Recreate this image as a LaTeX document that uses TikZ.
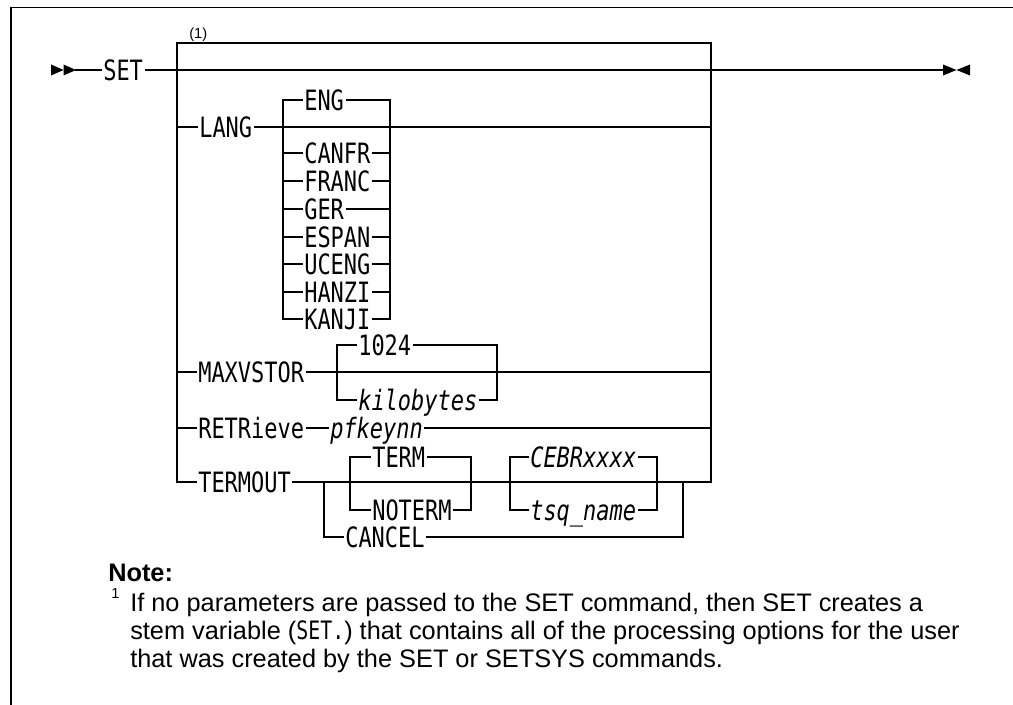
\documentclass[tikz,border=0pt]{standalone}
\usepackage{fontspec}
\setmainfont{Liberation Sans}
\newfontfamily\rrfont[FakeStretch=0.785]{DejaVu Sans Mono}
\tikzset{
  rr/.style={font=\rrfont\fontsize{21}{23}\selectfont, inner xsep=1.5pt, inner ysep=0pt,
             text height=15.3pt, text depth=0pt, anchor=west},
  rri/.style={rr, font=\rrfont\itshape\fontsize{21}{23}\selectfont},
  rail/.style={line width=1.05pt, line cap=rect},
  notetext/.style={anchor=base west, inner sep=0pt, font=\fontsize{19}{21}\selectfont},
}
\begin{document}
\begin{tikzpicture}[x=0.75pt,y=-0.75pt]
\useasboundingbox (0,0) rectangle (1013,705);
% frame
\coordinate (fb) at (11,705);
\coordinate (fc) at (11,7.5);
\coordinate (fr) at (1013,7.5);
\draw[line width=1.1pt] (fb) -- (fc) -- (fr);

% start / end markers
\coordinate (a0) at (76,70);
\coordinate (e0) at (943,70);
\fill (51,64.5) -- (63.5,70) -- (51,75.5) -- cycle;
\fill (63.5,64.5) -- (76,70) -- (63.5,75.5) -- cycle;
\fill (943,64.5) -- (956.5,70) -- (943,75.5) -- cycle;
\fill (970,64.5) -- (956.5,70) -- (970,75.5) -- cycle;

% main
\node[rr] (SET) at (101,70) {SET};
\draw[rail] (a0) -- (SET.west);
\draw[rail] (SET.east) -- (e0);

% main box
\coordinate (mTL) at (177,43);
\coordinate (mTR) at (711,43);
\coordinate (mBL) at (177,482);
\coordinate (mBR) at (711,482);
\draw[rail] (mBL) -- (mTL) -- (mTR) -- (mBR);
\node[anchor=south west, inner sep=0pt, font=\fontsize{11}{12}\selectfont] (fn1) at (189,42) {(1)};

% LANG
\node[rr] (LANG) at (197,127) {LANG};
\draw[rail] (LANG.west -| mTL) -- (LANG.west);
\draw[rail] (LANG.east) -- (LANG.east -| mTR);
\coordinate (lTL) at (283,100);
\coordinate (lTR) at (390,100);
\coordinate (lBL) at (283,319);
\coordinate (lBR) at (390,319);
\draw[rail] (lTL) -- (lBL);
\draw[rail] (lTR) -- (lBR);
\foreach \n/\yy in {ENG/100,CANFR/153,FRANC/181,GER/209,ESPAN/237,UCENG/264,HANZI/292,KANJI/319}{
  \node[rr] (\n) at (302,\yy) {\n};
  \draw[rail] (\n.west -| lTL) -- (\n.west);
  \draw[rail] (\n.east) -- (\n.east -| lTR);
}

% MAXVSTOR
\node[rr] (MAXVSTOR) at (196,372) {MAXVSTOR};
\draw[rail] (MAXVSTOR.west -| mTL) -- (MAXVSTOR.west);
\draw[rail] (MAXVSTOR.east) -- (MAXVSTOR.east -| mTR);
\coordinate (xTL) at (337,345);
\coordinate (xTR) at (497,345);
\coordinate (xBL) at (337,400);
\coordinate (xBR) at (497,400);
\node[rr] (k1024) at (356,345) {1024};
\node[rri] (kb) at (356,400) {kilobytes};
\draw[rail] (k1024.west) -- (xTL) -- (xBL) -- (kb.west);
\draw[rail] (k1024.east) -- (xTR) -- (xBR) -- (kb.east);

% RETRieve
\node[rr] (RET) at (196,428) {RETRieve};
\node[rri] (pfk) at (328,428) {pfkeynn};
\draw[rail] (RET.west -| mTL) -- (RET.west);
\draw[rail] (RET.east) -- (pfk.west);
\draw[rail] (pfk.east) -- (pfk.east -| mTR);

% TERMOUT
\node[rr] (TERMOUT) at (196,482) {TERMOUT};
\draw[rail] (mBL) -- (TERMOUT.west);
\draw[rail] (TERMOUT.east) -- (mBR);
\coordinate (cTL) at (324,482);
\coordinate (cBL) at (324,537);
\coordinate (cTR) at (683,482);
\coordinate (cBR) at (683,537);
\node[rr] (CANCEL) at (343,537) {CANCEL};
\draw[rail] (cTL) -- (cBL) -- (CANCEL.west);
\draw[rail] (CANCEL.east) -- (cBR) -- (cTR);
\coordinate (tTL) at (350,457);
\coordinate (tBL) at (350,510);
\coordinate (tTR) at (471,457);
\coordinate (tBR) at (471,510);
\node[rr] (TERM) at (370,457) {TERM};
\node[rr] (NOTERM) at (370,510) {NOTERM};
\draw[rail] (TERM.west) -- (tTL) -- (tBL) -- (NOTERM.west);
\draw[rail] (TERM.east) -- (tTR) -- (tBR) -- (NOTERM.east);
\coordinate (qTL) at (510,457);
\coordinate (qBL) at (510,510);
\coordinate (qTR) at (657,457);
\coordinate (qBR) at (657,510);
\node[rri] (CEBR) at (528,457) {CEBRxxxx};
\node[rri] (tsq) at (528,510) {tsq\_name};
\draw[rail] (CEBR.west) -- (qTL) -- (qBL) -- (tsq.west);
\draw[rail] (CEBR.east) -- (qTR) -- (qBR) -- (tsq.east);

% Note
\node[notetext, font=\bfseries\fontsize{19}{21}\selectfont] (note) at (108,581) {Note:};
\node[notetext, font=\fontsize{11}{12}\selectfont] (fnm) at (111,598) {1};
\node[notetext] (n1) at (130,611) {If no parameters are passed to the SET command, then SET creates a};
\node[notetext] (n2) at (130,639) {stem variable ({\rrfont\fontsize{19}{21}\selectfont SET.}) that contains all of the processing options for the user};
\node[notetext] (n3) at (130,667) {that was created by the SET or SETSYS commands.};
\end{tikzpicture}
\end{document}
